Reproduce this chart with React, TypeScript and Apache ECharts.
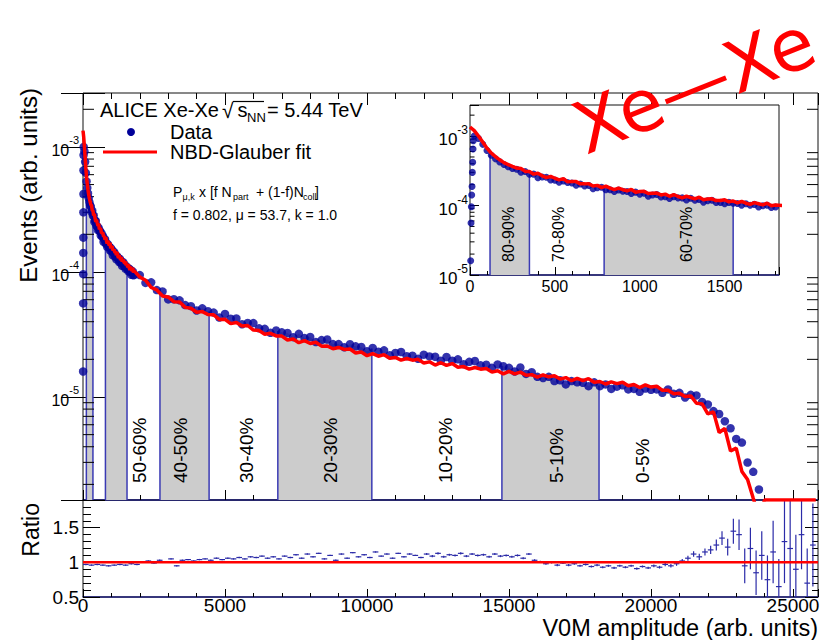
import React, { useEffect, useRef } from "react";
import * as echarts from "echarts";

const FONT = "'Liberation Sans', Arial, Helvetica, sans-serif";
const NAVY = "#1c1c78";
const BLUE = "#000099";
const RED = "#ff0000";
const EDGE_BLUE = "#3a3ab4";
const GRAY = "#cccccc";

// ---------- axis ranges ----------
const X_MAX = 25880;
const Y_MIN = 1.5e-6;
const Y_MAX = 2.7e-3;
const INSET_X_MAX = 1820;
const INSET_Y_MIN = 1e-5;
const INSET_Y_MAX = 2.8e-3;
const RATIO_MIN = 0.5;
const RATIO_MAX = 1.9;

// ---------- data: low-amplitude region (bins every 25, x = 0 .. 1800) ----------
const LOW_STEP = 25;
const lowFit = [
  1.35e-3, 1.2e-3, 1.0e-3, 8.2e-4, 6.7e-4, 5.7e-4, 5.05e-4, 4.55e-4, 4.15e-4, 3.88e-4, 3.66e-4,
  3.46e-4, 3.41e-4, 3.1e-4, 3.09e-4, 2.83e-4, 2.92e-4, 2.68e-4, 2.52e-4, 2.62e-4, 2.47e-4,
  2.34e-4, 2.44e-4, 2.19e-4, 2.22e-4, 2.21e-4, 2.05e-4, 2.05e-4, 2.06e-4, 1.91e-4, 1.95e-4,
  1.81e-4, 1.9e-4, 1.78e-4, 1.69e-4, 1.78e-4, 1.69e-4, 1.63e-4, 1.71e-4, 1.55e-4, 1.59e-4,
  1.6e-4, 1.49e-4, 1.5e-4, 1.51e-4, 1.42e-4, 1.46e-4, 1.36e-4, 1.44e-4, 1.35e-4, 1.29e-4,
  1.36e-4, 1.3e-4, 1.25e-4, 1.32e-4, 1.21e-4, 1.24e-4, 1.25e-4, 1.18e-4, 1.18e-4, 1.21e-4,
  1.13e-4, 1.16e-4, 1.09e-4, 1.15e-4, 1.08e-4, 1.04e-4, 1.1e-4, 1.06e-4, 1.02e-4, 1.08e-4,
  9.9e-5, 1.02e-4,
];
const lowData = [
  null, 1.0e-3, 9.2e-4, 7.6e-4, 6.2e-4, 5.3e-4, 4.7e-4, 4.25e-4, 3.9e-4, 3.62e-4, 3.42e-4,
  3.32e-4, 3.02e-4, 3.09e-4, 2.82e-4, 2.83e-4, 2.51e-4, 2.57e-4, 2.56e-4, 2.34e-4, 2.32e-4,
  2.16e-4, 2.25e-4, 2.15e-4, 2.11e-4, 1.96e-4, 2.04e-4, 1.91e-4, 1.94e-4, 1.74e-4, 1.81e-4,
  1.83e-4, 1.69e-4, 1.69e-4, 1.59e-4, 1.67e-4, 1.61e-4, 1.59e-4, 1.49e-4, 1.56e-4, 1.46e-4,
  1.5e-4, 1.36e-4, 1.42e-4, 1.44e-4, 1.33e-4, 1.34e-4, 1.26e-4, 1.34e-4, 1.29e-4, 1.29e-4,
  1.2e-4, 1.27e-4, 1.19e-4, 1.22e-4, 1.12e-4, 1.17e-4, 1.19e-4, 1.11e-4, 1.11e-4, 1.06e-4,
  1.11e-4, 1.08e-4, 1.07e-4, 1.01e-4, 1.06e-4, 1.01e-4, 1.04e-4, 9.5e-5, 9.9e-5, 1.01e-4,
  9.4e-5, 9.5e-5,
];
// rising edge of the data at the very lowest amplitudes
const edgeX = [4, 6, 8, 10, 12, 14, 16, 18, 20];
const edgeData = [1.6e-5, 5.6e-5, 9.6e-5, 1.42e-4, 1.88e-4, 3.0e-4, 4.2e-4, 6.5e-4, 8.6e-4];

// ---------- data: high-amplitude region (bins every 200, x = 2000 .. 25800) ----------
const HIGH_START = 2000;
const HIGH_STEP = 200;
const highFit = [
  9.12e-5, 8.59e-5, 7.53e-5, 7.18e-5, 6.43e-5, 6.31e-5, 5.79e-5, 5.75e-5, 5.21e-5, 5.13e-5,
  4.76e-5, 4.82e-5, 4.57e-5, 4.54e-5, 4.17e-5, 4.18e-5, 3.86e-5, 3.94e-5, 3.7e-5, 3.73e-5,
  3.43e-5, 3.4e-5, 3.18e-5, 3.23e-5, 3.08e-5, 3.07e-5, 2.86e-5, 2.91e-5, 2.72e-5, 2.82e-5,
  2.68e-5, 2.74e-5, 2.55e-5, 2.56e-5, 2.43e-5, 2.49e-5, 2.4e-5, 2.42e-5, 2.25e-5, 2.29e-5,
  2.14e-5, 2.22e-5, 2.12e-5, 2.18e-5, 2.04e-5, 2.07e-5, 1.97e-5, 2.03e-5, 1.97e-5, 2.0e-5,
  1.87e-5, 1.91e-5, 1.8e-5, 1.88e-5, 1.79e-5, 1.85e-5, 1.73e-5, 1.75e-5, 1.67e-5, 1.72e-5,
  1.67e-5, 1.69e-5, 1.58e-5, 1.62e-5, 1.53e-5, 1.6e-5, 1.53e-5, 1.58e-5, 1.49e-5, 1.51e-5,
  1.44e-5, 1.5e-5, 1.45e-5, 1.48e-5, 1.39e-5, 1.43e-5, 1.35e-5, 1.41e-5, 1.35e-5, 1.4e-5,
  1.31e-5, 1.33e-5, 1.27e-5, 1.32e-5, 1.28e-5, 1.31e-5, 1.23e-5, 1.26e-5, 1.19e-5, 1.25e-5,
  1.2e-5, 1.22e-5, 1.13e-5, 1.13e-5, 1.06e-5, 1.07e-5, 1.01e-5, 1.02e-5, 8.91e-6, 8.81e-6,
  7.33e-6, 7.6e-6, 5.2e-6, 5.6e-6, 3.7e-6, 3.9e-6, 2.54e-6, 2.19e-6, 1.55e-6, 1.1e-6,
  0, 0, 0, 0, 0, 0, 0, 0, 0, 0,
];
const highData = [
  9.44e-5, 8.17e-5, 8.26e-5, 7.16e-5, 6.98e-5, 6.03e-5, 6.05e-5, 5.93e-5, 5.43e-5, 5.33e-5,
  4.92e-5, 5.12e-5, 4.85e-5, 4.73e-5, 4.32e-5, 4.62e-5, 4.23e-5, 4.25e-5, 3.82e-5, 3.91e-5,
  3.9e-5, 3.54e-5, 3.51e-5, 3.26e-5, 3.4e-5, 3.29e-5, 3.25e-5, 3.01e-5, 3.2e-5, 2.96e-5,
  3.02e-5, 2.75e-5, 2.85e-5, 2.88e-5, 2.65e-5, 2.65e-5, 2.5e-5, 2.64e-5, 2.54e-5, 2.51e-5,
  2.32e-5, 2.47e-5, 2.3e-5, 2.36e-5, 2.16e-5, 2.25e-5, 2.29e-5, 2.12e-5, 2.14e-5, 2.02e-5,
  2.18e-5, 2.11e-5, 2.1e-5, 1.95e-5, 2.09e-5, 1.95e-5, 2.0e-5, 1.83e-5, 1.91e-5, 1.94e-5,
  1.79e-5, 1.81e-5, 1.71e-5, 1.82e-5, 1.76e-5, 1.71e-5, 1.6e-5, 1.72e-5, 1.53e-5, 1.58e-5,
  1.45e-5, 1.42e-5, 1.45e-5, 1.34e-5, 1.36e-5, 1.26e-5, 1.34e-5, 1.31e-5, 1.3e-5, 1.22e-5,
  1.31e-5, 1.22e-5, 1.26e-5, 1.16e-5, 1.21e-5, 1.24e-5, 1.15e-5, 1.16e-5, 1.1e-5, 1.17e-5,
  1.14e-5, 1.15e-5, 1.08e-5, 1.15e-5, 1.06e-5, 1.08e-5, 9.91e-6, 1.04e-5, 1.03e-5, 9.12e-6,
  8.71e-6, 7.71e-6, 7.31e-6, 6.4e-6, 5.62e-6, 4.62e-6, 4.32e-6, 2.99e-6, 2.52e-6, 1.82e-6,
  1.3e-6, null, null, null, null, null, null, null, null, null,
];

// ---------- ratio data / fit (bins of 200) ----------
const RATIO_STEP = 200;
const ratioValues = [
  0.97, 0.96, 0.97, 0.96, 0.95, 0.96, 0.97, 0.96, 0.98, 0.97,
  1.0, 1.02, 0.99, 1.03, 1.01, 1.05, 0.95, 1.03, 1.04, 1.02,
  1.04, 1.05, 1.03, 1.06, 1.04, 1.06, 1.05, 1.07, 1.05, 1.08,
  1.07, 1.09, 1.06, 1.08, 1.05, 1.09, 1.07, 1.11, 1.06, 1.12,
  1.08, 1.13, 1.05, 1.1, 1.03, 1.12, 1.06, 1.14, 1.08, 1.11,
  1.07, 1.15, 1.09, 1.12, 1.06, 1.13, 1.08, 1.12, 1.1, 1.07,
  1.12, 1.09, 1.13, 1.08, 1.11, 1.1, 1.13, 1.09, 1.12, 1.1,
  1.11, 1.08, 1.12, 1.09, 1.1, 1.08, 1.1, 1.06, 1.12, 1.03,
  1.01, 0.98, 1.0, 0.96, 0.99, 0.96, 0.98, 0.95, 0.97, 0.94,
  0.96, 0.93, 0.95, 0.92, 0.95, 0.93, 0.95, 0.91, 0.94, 0.92,
  0.95, 0.93, 0.97, 0.95, 0.98, 1.02, 1.06, 1.12, 1.08, 1.15,
  1.18, 1.25, 1.35, 1.22, 1.45, 1.4, 0.95, 1.2, 0.85, 1.1,
  0.75, 1.15, 0.65, 1.3, 1.2, 0.9, 1.4, 0.7, 1.25,
];
const ratioErr = [
  0.01, 0.01, 0.01, 0.01, 0.01, 0.01, 0.01, 0.01, 0.01, 0.01,
  0.01, 0.01, 0.01, 0.01, 0.01, 0.01, 0.01, 0.01, 0.01, 0.01,
  0.01, 0.01, 0.01, 0.01, 0.01, 0.01, 0.01, 0.01, 0.01, 0.01,
  0.01, 0.01, 0.01, 0.01, 0.01, 0.01, 0.01, 0.01, 0.01, 0.01,
  0.01, 0.01, 0.01, 0.01, 0.01, 0.01, 0.01, 0.01, 0.01, 0.01,
  0.01, 0.01, 0.01, 0.01, 0.01, 0.01, 0.01, 0.01, 0.01, 0.01,
  0.015, 0.015, 0.015, 0.015, 0.015, 0.015, 0.015, 0.015, 0.015, 0.015,
  0.015, 0.015, 0.015, 0.015, 0.015, 0.015, 0.015, 0.015, 0.015, 0.015,
  0.015, 0.015, 0.015, 0.015, 0.015, 0.015, 0.015, 0.015, 0.015, 0.015,
  0.015, 0.015, 0.015, 0.015, 0.015, 0.015, 0.015, 0.015, 0.015, 0.015,
  0.02, 0.02, 0.025, 0.025, 0.03, 0.03, 0.035, 0.04, 0.045, 0.05,
  0.06, 0.08, 0.1, 0.12, 0.18, 0.22, 0.25, 0.3, 0.32, 0.35,
  0.35, 0.45, 0.4, 0.6, 0.9, 0.5, 0.5, 0.5, 0.6,
];

// ---------- centrality classes ----------
const centralityEdges = [118, 350, 790, 1550, 2710, 4440, 6860, 10170, 14750, 18170];
const shadedBands = [[0, 1], [2, 3], [4, 5], [6, 7], [8, 9]];
const mainLabels = ["50-60%", "40-50%", "30-40%", "20-30%", "10-20%", "5-10%", "0-5%"];
const mainLabelX = [1980, 3450, 5740, 8730, 12750, 16680, 19710];
const insetLabels = ["80-90%", "70-80%", "60-70%"];
const insetLabelX = [225, 520, 1275];

// ---------- derived point lists ----------
const dataPts: [number, number][] = [];
edgeX.forEach((x, i) => dataPts.push([x, edgeData[i]]));
lowData.forEach((v, i) => {
  if (v != null) dataPts.push([i * LOW_STEP, v]);
});
highData.forEach((v, i) => {
  if (v != null) dataPts.push([HIGH_START + i * HIGH_STEP, v]);
});
const fitPts: [number, number][] = [];
lowFit.forEach((v, i) => fitPts.push([i * LOW_STEP, v]));
highFit.forEach((v, i) => fitPts.push([HIGH_START + i * HIGH_STEP, v > 0 ? v : Y_MIN]));

function curveAt(x: number): number {
  for (let i = 0; i < dataPts.length - 1; i++) {
    const [x0, y0] = dataPts[i];
    const [x1, y1] = dataPts[i + 1];
    if (x >= x0 && x <= x1) {
      const t = (x - x0) / (x1 - x0);
      return Math.pow(10, Math.log10(y0) + t * (Math.log10(y1) - Math.log10(y0)));
    }
  }
  return dataPts[dataPts.length - 1][1];
}

function logMinorTicks(lo: number, hi: number): number[] {
  const out: number[] = [];
  for (let e = Math.floor(Math.log10(lo)); e <= Math.ceil(Math.log10(hi)); e++) {
    for (let m = 2; m <= 9; m++) {
      const v = m * Math.pow(10, e);
      if (v > lo && v < hi) out.push(v);
    }
  }
  return out;
}

const bandRender = (params: any, api: any) => {
  const [a, b] = shadedBands[params.dataIndex];
  const xL = centralityEdges[a];
  const xR = centralityEdges[b];
  const cs = params.coordSys;
  const floorY = cs.y + cs.height;
  const pL = api.coord([xL, curveAt(xL)]);
  const pts: number[][] = [[pL[0], floorY], pL];
  dataPts.forEach(([x, v]) => {
    if (x > xL && x < xR) pts.push(api.coord([x, v]));
  });
  const pR = api.coord([xR, curveAt(xR)]);
  pts.push(pR, [pR[0], floorY]);
  return { type: "polygon", shape: { points: pts }, style: { fill: GRAY, stroke: null } };
};

const edgeRender = (params: any, api: any) => {
  const x = centralityEdges[params.dataIndex];
  const cs = params.coordSys;
  const floorY = cs.y + cs.height;
  const top = api.coord([x, curveAt(x)]);
  return {
    type: "line",
    shape: { x1: top[0], y1: floorY, x2: top[0], y2: top[1] },
    style: { stroke: EDGE_BLUE, lineWidth: 1.5 },
  };
};

const labelRender = (labels: string[], xs: number[], yRef: number, fontSize: number, offset: number) =>
  (params: any, api: any) => {
    const i = params.dataIndex;
    const cs = params.coordSys;
    const px = api.coord([xs[i], yRef])[0];
    return {
      type: "text",
      x: px,
      y: cs.y + cs.height - offset,
      rotation: Math.PI / 2,
      style: {
        text: labels[i],
        fontSize,
        fontFamily: FONT,
        fill: "#000",
        align: "left",
        verticalAlign: "middle",
      },
    };
  };

const minorTickRender = (lenL: number, lenR: number) => (params: any, api: any) => {
  const cs = params.coordSys;
  const y = api.coord([api.value(0), api.value(1)])[1];
  const children: any[] = [
    { type: "line", shape: { x1: cs.x, y1: y, x2: cs.x + lenL, y2: y }, style: { stroke: "#000", lineWidth: 1 } },
  ];
  if (lenR > 0) {
    children.push({
      type: "line",
      shape: { x1: cs.x + cs.width - lenR, y1: y, x2: cs.x + cs.width, y2: y },
      style: { stroke: "#000", lineWidth: 1 },
    });
  }
  return { type: "group", children };
};

const ratioRender = (params: any, api: any) => {
  const i = params.dataIndex;
  const x0 = i * RATIO_STEP;
  const x1 = x0 + RATIO_STEP;
  const xc = x0 + RATIO_STEP / 2;
  const r = ratioValues[i];
  const e = ratioErr[i];
  const pL = api.coord([x0, r]);
  const pR = api.coord([x1, r]);
  const pT = api.coord([xc, r + e]);
  const pB = api.coord([xc, r - e]);
  const st = { stroke: "#2b2ba8", lineWidth: 1.2 };
  return {
    type: "group",
    children: [
      { type: "line", shape: { x1: pL[0], y1: pL[1], x2: pR[0], y2: pR[1] }, style: st },
      { type: "line", shape: { x1: pT[0], y1: pT[1], x2: pB[0], y2: pB[1] }, style: st },
    ],
  };
};

const unityRender = (params: any, api: any) => {
  const cs = params.coordSys;
  const y = api.coord([0, 1])[1];
  return {
    type: "line",
    shape: { x1: cs.x, y1: y, x2: cs.x + cs.width, y2: y },
    style: { stroke: RED, lineWidth: 2.5 },
  };
};

const powLabel = (v: number) => {
  const e = Math.log10(v);
  const r = Math.round(e);
  if (Math.abs(e - r) > 0.02) return "";
  return `{b|10}{s|${r}}`;
};

const richMain = {
  b: { fontSize: 16, fontFamily: FONT, color: "#000", lineHeight: 24, verticalAlign: "bottom" },
  s: { fontSize: 11, fontFamily: FONT, color: "#000", lineHeight: 9, verticalAlign: "top" },
};
const richInset = {
  b: { fontSize: 17, fontFamily: FONT, color: "#000", lineHeight: 24, verticalAlign: "bottom" },
  s: { fontSize: 12, fontFamily: FONT, color: "#000", lineHeight: 9, verticalAlign: "top" },
};

const txt = (x: number, y: number, text: string, fontSize: number, extra: any = {}) => ({
  type: "text",
  x,
  y,
  z: 50,
  silent: true,
  ...extra,
  style: {
    text,
    fontSize,
    fontFamily: FONT,
    fill: "#000",
    align: "left",
    verticalAlign: "middle",
    ...(extra.style || {}),
  },
});

const noSplit = { show: false };
const tickStyle = { color: "#000", width: 1 };

function buildOption(): any {
  const mainMinor = logMinorTicks(Y_MIN, Y_MAX).map((v) => [0, v]);
  const insetMinor = logMinorTicks(INSET_Y_MIN, INSET_Y_MAX).map((v) => [0, v]);
  return {
    animation: false,
    backgroundColor: "#fff",
    grid: [
      { left: 83, top: 93, width: 735, height: 407, show: true, borderColor: "#111", borderWidth: 1, outerBoundsMode: "none" },
      { left: 83, top: 500, width: 735, height: 97, show: true, borderColor: "#111", borderWidth: 1, outerBoundsMode: "none" },
      { left: 470, top: 105, width: 309, height: 170, show: true, borderColor: "#111", borderWidth: 1, outerBoundsMode: "none" },
    ],
    xAxis: [
      {
        gridIndex: 0, type: "value", position: "bottom", min: 0, max: X_MAX, interval: 5000,
        axisLine: { show: true, lineStyle: { color: NAVY, width: 1.5 } },
        axisTick: { show: true, inside: true, length: 10, lineStyle: tickStyle },
        minorTick: { show: true, splitNumber: 5, length: 5, lineStyle: tickStyle },
        axisLabel: { show: false }, splitLine: noSplit,
      },
      {
        gridIndex: 0, type: "value", position: "top", min: 0, max: X_MAX, interval: 5000,
        axisLine: { show: false },
        axisTick: { show: true, inside: true, length: 12, lineStyle: tickStyle },
        minorTick: { show: true, splitNumber: 5, length: 6, lineStyle: tickStyle },
        axisLabel: { show: false }, splitLine: noSplit,
      },
      {
        gridIndex: 1, type: "value", position: "bottom", min: 0, max: X_MAX, interval: 5000,
        axisLine: { show: true, lineStyle: { color: NAVY, width: 1.5 } },
        axisTick: { show: true, inside: true, length: 8, lineStyle: tickStyle },
        minorTick: { show: true, splitNumber: 5, length: 4, lineStyle: tickStyle },
        axisLabel: {
          show: true, margin: 1, fontSize: 19, fontFamily: FONT, color: "#000", lineHeight: 14,
          formatter: (v: number) => (v % 5000 === 0 ? String(v) : ""),
        },
        splitLine: noSplit,
      },
      {
        gridIndex: 2, type: "value", position: "bottom", min: 0, max: INSET_X_MAX, interval: 500,
        axisLine: { show: true, lineStyle: { color: NAVY, width: 1.5 } },
        axisTick: { show: true, inside: true, length: 8, lineStyle: tickStyle },
        minorTick: { show: true, splitNumber: 5, length: 4, lineStyle: tickStyle },
        axisLabel: {
          show: true, margin: 3, fontSize: 16, fontFamily: FONT, color: "#000",
          formatter: (v: number) => (v % 500 === 0 ? String(v) : ""),
        },
        splitLine: noSplit,
      },
    ],
    yAxis: [
      {
        gridIndex: 0, type: "log", logBase: 10, position: "left", min: Y_MIN, max: Y_MAX,
        axisLine: { show: false },
        axisTick: { show: true, inside: true, length: 22, lineStyle: tickStyle },
        axisLabel: { show: true, margin: 4, formatter: powLabel, rich: richMain },
        splitLine: noSplit,
      },
      {
        gridIndex: 0, type: "log", logBase: 10, position: "right", min: Y_MIN, max: Y_MAX,
        axisLine: { show: false },
        axisTick: { show: true, inside: true, length: 22, lineStyle: tickStyle },
        axisLabel: { show: false }, splitLine: noSplit,
      },
      {
        gridIndex: 1, type: "value", position: "left", min: RATIO_MIN, max: RATIO_MAX, interval: 0.5,
        axisLine: { show: false },
        axisTick: { show: true, inside: true, length: 17, lineStyle: tickStyle },
        minorTick: { show: true, splitNumber: 5, length: 8, lineStyle: tickStyle },
        axisLabel: {
          show: true, margin: 4, fontSize: 19, fontFamily: FONT, color: "#000",
          formatter: (v: number) => (Math.abs(v * 2 - Math.round(v * 2)) < 1e-6 && v < 1.8 ? String(v) : ""),
        },
        splitLine: noSplit,
      },
      {
        gridIndex: 1, type: "value", position: "right", min: RATIO_MIN, max: RATIO_MAX, interval: 0.5,
        axisLine: { show: false },
        axisTick: { show: true, inside: true, length: 13, lineStyle: tickStyle },
        minorTick: { show: true, splitNumber: 5, length: 6, lineStyle: tickStyle },
        axisLabel: { show: false }, splitLine: noSplit,
      },
      {
        gridIndex: 2, type: "log", logBase: 10, position: "left", min: INSET_Y_MIN, max: INSET_Y_MAX,
        axisLine: { show: false },
        axisTick: { show: true, inside: true, length: 9, lineStyle: tickStyle },
        axisLabel: { show: true, margin: 2, formatter: powLabel, rich: richInset },
        splitLine: noSplit,
      },
    ],
    series: [
      // ----- main panel -----
      {
        type: "custom", xAxisIndex: 0, yAxisIndex: 0, z: 1, silent: true,
        data: shadedBands.map((b) => [centralityEdges[b[0]], Y_MIN * 2]),
        renderItem: bandRender,
      },
      {
        type: "custom", xAxisIndex: 0, yAxisIndex: 0, z: 2, silent: true,
        data: centralityEdges.map((x) => [x, Y_MIN * 2]),
        renderItem: edgeRender,
      },
      {
        type: "custom", xAxisIndex: 0, yAxisIndex: 0, z: 3, silent: true,
        data: mainLabelX.map((x) => [x, Y_MIN * 2]),
        renderItem: labelRender(mainLabels, mainLabelX, Y_MIN * 2, 19, 17),
      },
      {
        type: "custom", xAxisIndex: 0, yAxisIndex: 0, z: 3, silent: true,
        data: mainMinor,
        renderItem: minorTickRender(11, 11),
      },
      {
        type: "scatter", xAxisIndex: 0, yAxisIndex: 0, z: 4, silent: true,
        data: dataPts, symbol: "circle", symbolSize: 8.5,
        itemStyle: { color: BLUE },
      },
      {
        type: "line", xAxisIndex: 0, yAxisIndex: 0, z: 5, silent: true,
        data: fitPts, showSymbol: false, symbol: "none",
        lineStyle: { color: RED, width: 3.5 },
      },
      // ----- ratio panel -----
      {
        type: "custom", xAxisIndex: 2, yAxisIndex: 2, z: 3, silent: true, clip: true,
        data: ratioValues.map((r, i) => [i * RATIO_STEP + RATIO_STEP / 2, r]),
        renderItem: ratioRender,
      },
      {
        type: "custom", xAxisIndex: 2, yAxisIndex: 2, z: 4, silent: true,
        data: [[0, 1]],
        renderItem: unityRender,
      },
      // ----- inset -----
      {
        type: "custom", xAxisIndex: 3, yAxisIndex: 4, z: 1, silent: true,
        data: shadedBands.slice(0, 2).map((b) => [centralityEdges[b[0]], INSET_Y_MIN * 2]),
        renderItem: bandRender,
      },
      {
        type: "custom", xAxisIndex: 3, yAxisIndex: 4, z: 2, silent: true,
        data: centralityEdges.slice(0, 4).map((x) => [x, INSET_Y_MIN * 2]),
        renderItem: edgeRender,
      },
      {
        type: "custom", xAxisIndex: 3, yAxisIndex: 4, z: 3, silent: true,
        data: insetLabelX.map((x) => [x, INSET_Y_MIN * 2]),
        renderItem: labelRender(insetLabels, insetLabelX, INSET_Y_MIN * 2, 16, 13),
      },
      {
        type: "custom", xAxisIndex: 3, yAxisIndex: 4, z: 3, silent: true,
        data: insetMinor,
        renderItem: minorTickRender(4.5, 0),
      },
      {
        type: "scatter", xAxisIndex: 3, yAxisIndex: 4, z: 4, silent: true,
        data: dataPts.filter((p) => p[0] <= 2000), symbol: "circle", symbolSize: 7,
        itemStyle: { color: BLUE },
      },
      {
        type: "line", xAxisIndex: 3, yAxisIndex: 4, z: 5, silent: true,
        data: fitPts.filter((p) => p[0] <= 2000), showSymbol: false, symbol: "none",
        lineStyle: { color: RED, width: 3.5 },
      },
    ],
    graphic: [
      txt(100, 109.5, "ALICE Xe-Xe", 20),
      txt(222, 110, "√", 21),
      { type: "line", z: 50, silent: true, shape: { x1: 233, y1: 101.5, x2: 264, y2: 101.5 }, style: { stroke: "#000", lineWidth: 1.2 } },
      txt(237.5, 109.5, "s", 20),
      txt(247, 117.5, "NN", 13),
      txt(267, 109.5, "= 5.44 TeV", 20),
      { type: "circle", z: 50, silent: true, shape: { cx: 131, cy: 132, r: 4 }, style: { fill: BLUE } },
      txt(170, 131.5, "Data", 20),
      { type: "line", z: 50, silent: true, shape: { x1: 103, y1: 152, x2: 157, y2: 152 }, style: { stroke: RED, lineWidth: 3 } },
      txt(170, 151.5, "NBD-Glauber fit", 20),
      txt(173, 191.8, "P", 14),
      txt(182.5, 197.4, "μ,k", 9),
      txt(199, 191.8, "x [f N", 14),
      txt(233, 197.4, "part", 9),
      txt(256, 191.8, "+ (1-f)N", 14),
      txt(303, 197.4, "coll", 9),
      txt(315, 191.8, "]", 14),
      txt(173, 215.2, "f = 0.802, μ = 53.7, k = 1.0", 14),
      txt(28, 88, "Events (arb. units)", 24, { rotation: Math.PI / 2, style: { align: "right" } }),
      txt(31, 503, "Ratio", 23, { rotation: Math.PI / 2, style: { align: "right" } }),
      txt(818, 628, "V0M amplitude (arb. units)", 23.5, { style: { align: "right", lineHeight: 20 } }),
      {
        type: "text", z: 200, silent: true, x: 694, y: 85, rotation: 0.38,
        style: {
          text: "Xe—Xe", fontSize: 72, fontFamily: "'DejaVu Sans', sans-serif",
          fill: RED, align: "center", verticalAlign: "middle", lineHeight: 60,
        },
      },
    ],
  };
}

export default function App() {
  const ref = useRef<HTMLDivElement>(null);
  useEffect(() => {
    document.body.style.margin = "0";
    const chart = echarts.init(ref.current as HTMLDivElement, null, { renderer: "svg" });
    chart.setOption(buildOption());
    return () => chart.dispose();
  }, []);
  return <div ref={ref} style={{ width: 835, height: 640 }} />;
}
